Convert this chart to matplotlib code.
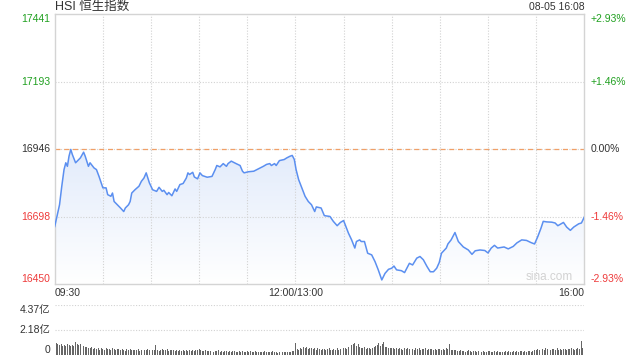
import numpy as np
import matplotlib
matplotlib.use("Agg")
import matplotlib.pyplot as plt
from matplotlib.colors import LinearSegmentedColormap

plt.rcParams['font.family'] = ['Liberation Sans', 'Noto Sans CJK SC']

# --- data ---
title = "HSI 恒生指数"
stamp = "08-05 16:08"
prev_close = 16946
price_ticks = [17441, 17193, 16946, 16698, 16450]
pct_labels = ["+2.93%", "+1.46%", "0.00%", "-1.46%", "-2.93%"]
time_labels = ["09:30", "12:00/13:00", "16:00"]
vol_ticks = [4.37, 2.18, 0]
vol_labels = ["4.37亿", "2.18亿", "0"]

# minutes since 09:30 on the trading clock (lunch break removed)
minutes = [0, 3, 4.4, 5.8, 6.9, 7.9, 8.9, 10, 11, 13, 15, 16, 18, 19, 21, 22, 24.5, 26,
           27.6, 29, 30, 32, 33, 35, 36, 37, 39, 41, 43, 44, 46, 47, 48, 50, 52.5, 54,
           55.6, 57, 59, 61, 63.5, 65, 67, 68, 70, 71, 73, 75, 76, 78, 80, 82, 83, 84,
           86, 87, 89, 90.5, 92, 95, 98, 100, 101, 103, 105, 107, 108, 110, 113, 115.5,
           117, 118, 120.6, 124, 127, 130, 132, 134, 135, 137, 138, 140, 143, 144.6,
           146.6, 148, 149.3, 150.4, 152, 154, 156, 158, 160, 162, 163, 166, 168, 171.5,
           173.6, 176, 178, 180, 183, 185, 187, 188, 190, 191, 193, 195, 197.5, 199.6,
           201.6, 203.8, 205.8, 208, 210, 211.4, 213, 216, 218, 221, 223, 225.6, 227.6,
           229.7, 232, 234, 236, 238, 239.6, 241, 244, 245, 247, 249.4, 251.5, 254.6,
           257.7, 260, 262, 265, 268, 270, 272, 274, 276, 280, 282.6, 285.7, 288, 291,
           294, 296.8, 299, 301, 303, 304.4, 306.6, 309.7, 311.8, 313.5, 315.5, 317, 319,
           321.3, 323.4, 326.5, 328.2, 330]
price = [16662, 16742, 16810, 16871, 16896, 16883, 16920, 16945, 16926, 16896, 16908,
         16914, 16935, 16920, 16883, 16896, 16877, 16871, 16846, 16822, 16804, 16804,
         16779, 16773, 16785, 16754, 16742, 16730, 16717, 16730, 16742, 16754, 16785,
         16797, 16810, 16828, 16840, 16859, 16822, 16797, 16791, 16806, 16791, 16795,
         16779, 16787, 16775, 16800, 16791, 16816, 16820, 16840, 16859, 16853, 16861,
         16844, 16837, 16859, 16849, 16843, 16846, 16871, 16886, 16881, 16893, 16883,
         16893, 16902, 16893, 16886, 16865, 16859, 16863, 16865, 16874, 16883, 16890,
         16893, 16886, 16893, 16886, 16904, 16908, 16914, 16920, 16923, 16908, 16871,
         16834, 16804, 16773, 16754, 16742, 16717, 16734, 16730, 16702, 16699, 16681,
         16665, 16677, 16684, 16638, 16613, 16583, 16607, 16613, 16607, 16607, 16564,
         16558, 16533, 16503, 16466, 16490, 16505, 16509, 16517, 16503, 16500, 16493,
         16527, 16521, 16546, 16552, 16540, 16515, 16496, 16496, 16509, 16530, 16564,
         16583, 16598, 16613, 16640, 16607, 16587, 16576, 16560, 16573, 16576, 16574,
         16565, 16583, 16593, 16583, 16587, 16580, 16589, 16602, 16613, 16611, 16603,
         16598, 16625, 16656, 16681, 16679, 16678, 16675, 16665, 16672, 16677, 16660,
         16648, 16660, 16672, 16675, 16697]

# per-minute turnover, 100m HKD (亿)
volume = [4.37, 1.02, 0.95, 0.88, 0.92, 0.80, 0.85, 0.78, 0.90, 0.82,
          0.75, 0.88, 0.80, 1.08, 0.92, 0.85, 0.95, 0.70, 0.78, 0.65,
          0.72, 0.60, 0.55, 0.68, 0.50, 0.62, 0.48, 0.55, 0.45, 0.58,
          0.52, 0.44, 0.60, 0.47, 0.50, 0.42, 0.55, 0.46, 0.40, 0.52,
          0.48, 0.38, 0.50, 0.44, 0.36, 0.46, 0.40, 0.52, 0.43, 0.37,
          0.45, 0.39, 0.48, 0.35, 0.42, 0.47, 0.38, 0.44, 0.50, 0.41,
          0.36, 0.45, 0.40, 0.88, 0.42, 0.33, 0.40, 0.46, 0.37, 0.43,
          0.48, 0.35, 0.41, 0.38, 0.45, 0.33, 0.40, 0.36, 0.44, 0.32,
          0.39, 0.35, 0.42, 0.30, 0.38, 0.34, 0.41, 0.31, 0.37, 0.45,
          0.52, 0.40, 0.36, 0.30, 0.38, 0.33, 0.29, 0.36, 0.31, 0.27,
          0.34, 0.30, 0.38, 0.28, 0.33, 0.25, 0.31, 0.36, 0.28, 0.32,
          0.26, 0.30, 0.35, 0.27, 0.24, 0.31, 0.28, 0.33, 0.26, 0.22,
          0.29, 0.25, 0.32, 0.23, 0.27, 0.30, 0.24, 0.21, 0.28, 0.25,
          0.22, 0.30, 0.26, 0.20, 0.27, 0.23, 0.29, 0.21, 0.25, 0.19,
          0.26, 0.22, 0.28, 0.20, 0.24, 0.27, 0.21, 0.25, 0.30, 0.35,
          1.06, 0.52, 0.45, 0.60, 0.48, 0.66, 0.55, 0.70, 0.50, 0.62,
          0.58, 0.47, 0.55, 0.44, 0.60, 0.50, 0.42, 0.53, 0.46, 0.40,
          0.48, 0.55, 0.43, 0.38, 0.50, 0.45, 0.58, 0.41, 0.52, 0.47,
          0.55, 0.62, 0.50, 0.68, 0.75, 0.85, 0.95, 1.02, 0.80, 0.90,
          0.70, 0.60, 0.55, 0.65, 0.50, 0.58, 0.62, 0.48, 0.56, 0.70,
          0.78, 0.85, 1.02, 0.75, 0.90, 1.08, 0.72, 0.66, 0.58, 0.62,
          0.55, 0.60, 0.50, 0.57, 0.48, 0.62, 0.53, 0.45, 0.58, 0.50,
          0.55, 0.47, 0.60, 0.52, 0.44, 0.56, 0.49, 0.58, 0.45, 0.52,
          0.48, 0.55, 0.42, 0.50, 0.46, 0.53, 0.40, 0.48, 0.44, 0.51,
          0.47, 0.42, 0.50, 0.45, 0.55, 0.48, 0.92, 0.45, 0.40, 0.38,
          0.42, 0.36, 0.33, 0.38, 0.30, 0.35, 0.28, 0.33, 0.37, 0.30,
          0.27, 0.35, 0.31, 0.26, 0.34, 0.29, 0.25, 0.32, 0.28, 0.24,
          0.30, 0.33, 0.27, 0.23, 0.29, 0.26, 0.31, 0.24, 0.28, 0.22,
          0.27, 0.30, 0.25, 0.29, 0.23, 0.28, 0.32, 0.26, 0.30, 0.24,
          0.29, 0.33, 0.27, 0.31, 0.25, 0.30, 0.34, 0.28, 0.36, 0.40,
          0.45, 0.52, 0.40, 0.55, 0.48, 0.42, 0.58, 0.46, 0.50, 0.44,
          0.52, 0.47, 0.40, 0.55, 0.45, 0.50, 0.42, 0.48, 0.53, 0.44,
          0.50, 0.46, 0.55, 0.48, 0.42, 0.52, 0.58, 0.50, 1.22, 0.55,
          3.78]

GREEN = "#20a020"
RED = "#ee3a3a"
DARK = "#333333"
GRID = "#d2d2d2"
SPINE = "#d4d4d4"
LINE = "#5b8ff0"


def main():
    fig = plt.figure(figsize=(6.4, 3.6), dpi=100)
    ax = fig.add_axes([0.0855, 0.2103, 0.8275, 0.75])
    axv = fig.add_axes([0.0855, 0.0147, 0.8275, 0.1381])

    lo, hi = price_ticks[-1], price_ticks[0]
    x_end = minutes[-1]

    # gradient fill under the price line
    poly = ax.fill_between(minutes, price, lo, facecolor="none", edgecolor="none")
    cmap = LinearSegmentedColormap.from_list("fade", ["#ffffff", "#e2ebfb"])
    grad = np.linspace(0, 1, 256).reshape(-1, 1)
    im = ax.imshow(grad, extent=[0, x_end, lo, max(price)], origin="lower",
                   aspect="auto", cmap=cmap, zorder=1)
    im.set_clip_path(poly.get_paths()[0], transform=ax.transData)

    ax.plot(minutes, price, color=LINE, lw=1.1, zorder=3)

    # grid
    for v in price_ticks[1:-1]:
        ax.axhline(v, color=GRID, lw=0.8, ls=(0, (1, 1.5)), zorder=2)
    for m in range(30, 330, 30):
        ax.axvline(m, color=GRID, lw=0.8, ls=(0, (1, 1.5)), zorder=2)
    ax.axhline(prev_close, color="#f0a068", lw=0.9, ls=(0, (4, 3)), zorder=2)

    ax.set_xlim(0, x_end)
    ax.set_ylim(lo, hi)
    ax.set_xticks([])
    ax.set_yticks([])
    for s in ax.spines.values():
        s.set_color(SPINE)
        s.set_linewidth(1.0)

    # price / percent labels on both sides
    colors = [GREEN, GREEN, DARK, RED, RED]
    vas = ["top", "center", "center", "center", "bottom"]
    tr = ax.get_yaxis_transform()
    for v, p, c, va in zip(price_ticks, pct_labels, colors, vas):
        ax.text(-0.008, v, str(v), transform=tr, ha="right", va=va,
                color=c, fontsize=7.5)
        ax.text(1.011, v, p, transform=tr, ha="left", va=va,
                color=c, fontsize=7.5)

    # time labels
    ty = -0.032
    ax.text(0, ty, time_labels[0], transform=ax.transAxes, ha="left",
            va="center", color=DARK, fontsize=7.5)
    ax.text(150 / x_end, ty, time_labels[1], transform=ax.transAxes,
            ha="center", va="center", color=DARK, fontsize=7.5)
    ax.text(1, ty, time_labels[2], transform=ax.transAxes, ha="right",
            va="center", color=DARK, fontsize=7.5)

    ax.text(0, 1.027, title, transform=ax.transAxes, ha="left", va="center",
            color=DARK, fontsize=9)
    ax.text(1, 1.027, stamp, transform=ax.transAxes, ha="right", va="center",
            color=DARK, fontsize=7.5)
    ax.text(0.979, 0.005, "sina.com", transform=ax.transAxes, ha="right",
            va="bottom", color="#d2d2d2", fontsize=8.5)

    # volume panel
    axv.bar(np.arange(len(volume)), volume, width=0.6, color="#666666",
            linewidth=0)
    for v in vol_ticks[:-1]:
        axv.axhline(v, color=GRID, lw=0.8, ls=(0, (1, 1.5)), zorder=0)
    axv.set_xlim(0, x_end)
    axv.set_ylim(0, vol_ticks[0])
    axv.set_xticks([])
    axv.set_yticks([])
    for s in axv.spines.values():
        s.set_visible(False)
    trv = axv.get_yaxis_transform()
    for v, lab, va in zip(vol_ticks, vol_labels, ["top", "center", "bottom"]):
        axv.text(-0.008, v, lab, transform=trv, ha="right", va=va,
                 color=DARK, fontsize=7.5)

    fig.savefig("out.png", dpi=100)


if __name__ == "__main__":
    main()
